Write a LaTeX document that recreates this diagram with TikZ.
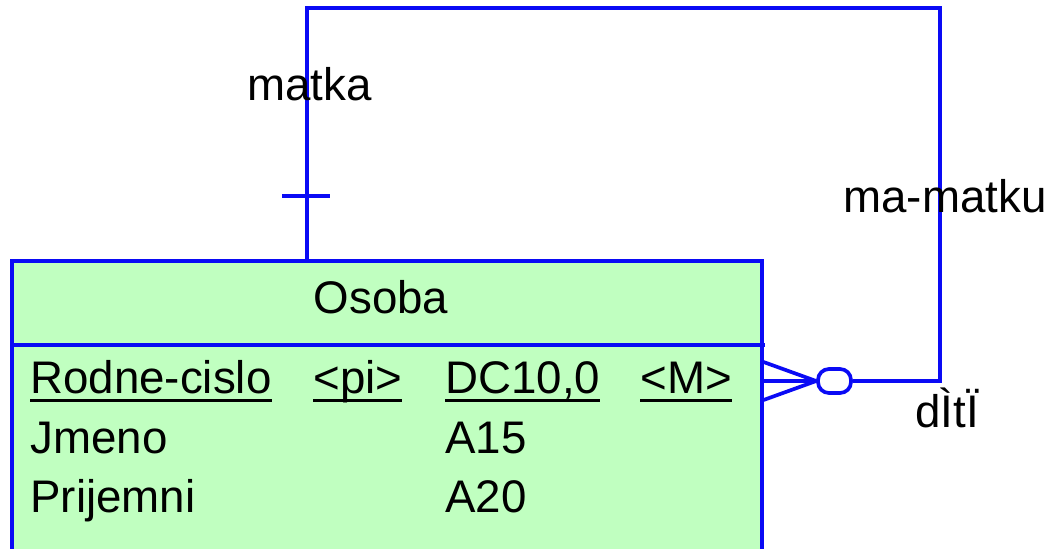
\documentclass[tikz,border=0pt]{standalone}
\usepackage{fontspec}
\setmainfont{Liberation Sans}
\usetikzlibrary{positioning}
\definecolor{erblue}{RGB}{10,10,245}
\definecolor{ergreen}{RGB}{192,255,192}
% 主键下划线
\newcommand{\keyul}[1]{\setbox0\hbox{#1}\rlap{\rule[-5pt]{\wd0}{1.8pt}}\box0}
\begin{document}
\begin{tikzpicture}[x=0.02cm, y=-0.02cm,
    rel/.style={draw=erblue, line width=2.1pt},
    txt/.style={inner sep=0pt, anchor=base west, font=\fontsize{26}{31}\selectfont}]
    \useasboundingbox (0,0) rectangle (1050,548);

    % 实体
    \node[draw=erblue, fill=ergreen, line width=2.1pt, anchor=north west,
        minimum width=15cm, minimum height=5.8cm, inner sep=0pt] (osoba) at (10,259) {};
    \draw[rel] (osoba.west |- 0,345) -- ([xshift=1pt]osoba.east |- 0,345);
    \node[txt, anchor=base] (name) at (381,313) {Osoba};

    % 属性
    \node[txt] (rc) at (30,393) {\keyul{Rodne-cislo}};
    \node[txt] (pi) at (313,393) {\keyul{<pi>}};
    \node[txt] (dc) at (445,393) {\keyul{DC10,0}};
    \node[txt] (mm) at (640,393) {\keyul{<M>}};
    \node[txt] (jm) at (30,453) {Jmeno};
    \node[txt] (a15) at (445,453) {A15};
    \node[txt] (pr) at (30,512) {Prijemni};
    \node[txt] (a20) at (445,512) {A20};

    % 自关联：matka / dìtì
    \coordinate (parent) at (307,259);
    \coordinate (cornerA) at (307,8);
    \coordinate (cornerB) at (940,8);
    \coordinate (child) at (940,381);
    \node[rel, rounded corners=0.22cm, minimum width=0.66cm, minimum height=0.48cm,
        inner sep=0pt] (opt) at (834.5,381) {};
    \draw[rel] (parent) -- (cornerA) -- (cornerB) -- (child) -- (opt.east);

    % 一端：短横
    \coordinate (tickL) at (282,196);
    \coordinate (tickR) at (330,196);
    \draw[rel] (tickL) -- (tickR);

    % 多端：鸦爪
    \draw[rel] ([yshift=0.38cm]osoba.east |- opt) -- (opt.west);
    \draw[rel] (osoba.east |- opt) -- (opt.west);
    \draw[rel] ([yshift=-0.38cm]osoba.east |- opt) -- (opt.west);

    % 角色名
    \node[txt] (matka) at (247,100) {matka};
    \node[txt] (mamatku) at (843,212) {ma-matku};
    \node[txt] (deti) at (915,427) {dÌtÏ};
\end{tikzpicture}
\end{document}
